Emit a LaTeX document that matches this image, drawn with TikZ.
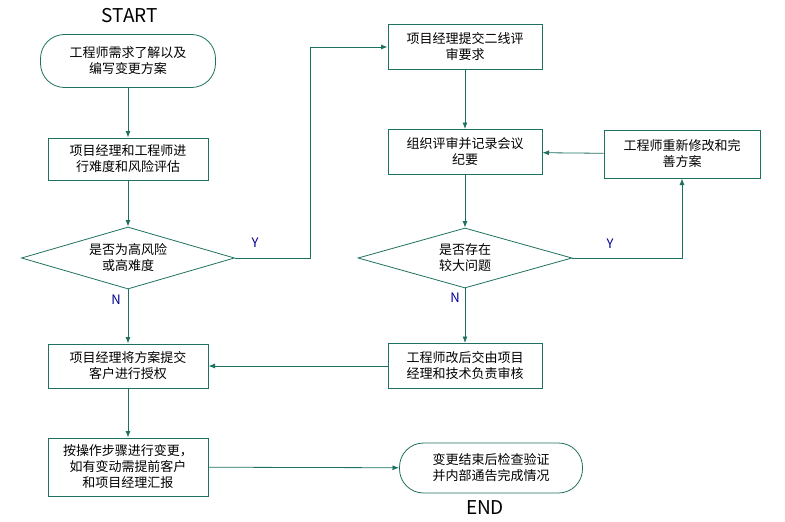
\documentclass[tikz,border=0pt]{standalone}
\usepackage{fontspec}
\setmainfont{Noto Sans CJK SC}
\usetikzlibrary{arrows.meta,shapes.geometric,positioning}
\definecolor{lineg}{HTML}{1E7060}
\tikzset{
	>=Latex,
	every edge/.style={draw=lineg, thick, ->},
	box/.style = {draw=lineg, thick, fill=white, minimum width=160pt, minimum height=44pt, align=center, font=\fontsize{13}{16}\selectfont, inner sep=2pt},
	term/.style = {box, rounded corners=24pt},
	decide/.style = {draw=lineg, thick, diamond, aspect=3.4, minimum width=213pt, minimum height=62pt, align=center, inner sep=0pt, font=\fontsize{13}{16}\selectfont},
	lbl/.style = {text=blue!60!black, font=\fontsize{13}{15}\selectfont}
}
\begin{document}
\begin{tikzpicture}[x=1pt,y=-1pt]
		\useasboundingbox (0,0) rectangle (785,522);

		\node[font=\fontsize{19}{22}\selectfont] at (130,16) (start) {START};
		\node[term, minimum width=175pt, minimum height=53pt] at (128,61) (need) {工程师需求了解以及\\编写变更方案};
		\node[box, minimum height=42pt] at (128,159) (assess) {项目经理和工程师进\\行难度和风险评估};
		\node[decide] at (128,258) (risk) {是否为高风险\\或高难度};
		\node[box] at (128,366) (auth) {项目经理将方案提交\\客户进行授权};
		\node[box, minimum height=58pt] at (128,467) (exec) {按操作步骤进行变更，\\如有变动需提前客户\\和项目经理汇报};
		\node[term, minimum width=183pt, minimum height=50pt] at (491,468) (verify) {变更结束后检查验证\\并内部通告完成情况};
		\node[font=\fontsize{19}{22}\selectfont] at (485,508) (end) {END};

		\node[box, minimum width=154pt, minimum height=45pt] at (465,47) (submit) {项目经理提交二线评\\审要求};
		\node[box, minimum width=154pt, minimum height=45pt] at (465,152) (review) {组织评审并记录会议\\纪要};
		\node[box, minimum width=156pt, minimum height=48pt] at (682,154) (revise) {工程师重新修改和完\\善方案};
		\node[decide, minimum width=214pt, minimum height=60pt] at (465,258) (issue) {是否存在\\较大问题};
		\node[box, minimum width=154pt, minimum height=45pt] at (465,366) (check) {工程师改后交由项目\\经理和技术负责审核};

		\coordinate (yup) at (310,258);
		\coordinate (ytop) at (310,47);
		\coordinate (yright) at (682,258);

		\draw (need) edge (assess);
		\draw (assess) edge (risk);
		\draw (risk) edge (auth);
		\draw (auth) edge (exec);
		\draw (exec) edge (verify);
		\draw[draw=lineg, thick, ->] (risk.east) -- (yup) -- (ytop) -- (submit.west);
		\draw (submit) edge (review);
		\draw (review) edge (issue);
		\draw (issue) edge (check);
		\draw (check) edge (auth);
		\draw[draw=lineg, thick, ->] (issue.east) -- (yright) -- (revise.south);
		\draw (revise) edge (review);

		\node[lbl] at (255,243) (y1) {Y};
		\node[lbl] at (116,300) (n1) {N};
		\node[lbl] at (610,244) (y2) {Y};
		\node[lbl] at (455,298) (n2) {N};
	\end{tikzpicture}
\end{document}
